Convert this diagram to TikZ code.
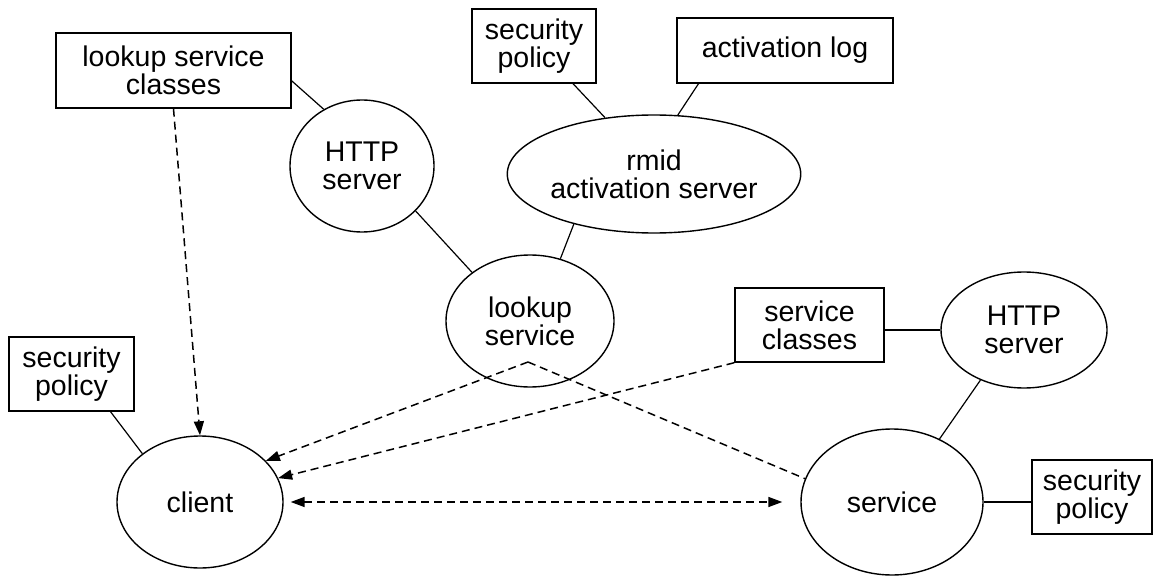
\documentclass[tikz,border=0pt]{standalone}
\usepackage{fontspec}
\setmainfont{Liberation Sans}
\usetikzlibrary{shapes.geometric,arrows.meta,calc}
\begin{document}
\begin{tikzpicture}[x=1pt,y=-1pt,
  every node/.style={font=\fontsize{28.5}{28}\selectfont, align=center, inner sep=0pt},
  box/.style={draw, rectangle, line width=1.4pt},
  oval/.style={draw, ellipse, line width=1.4pt},
  link/.style={line width=1.2pt},
  dlink/.style={line width=1.5pt, dash pattern=on 8pt off 5pt},
  tip/.style={-{Triangle[length=14pt,width=10pt]}}
]
\useasboundingbox (0,0) rectangle (1155,577);

% nodes
\node[box, minimum width=235, minimum height=75] (lsc) at (173.5,70.5) {lookup service\\classes};
\node[oval, minimum width=144, minimum height=132] (http1) at (362,166) {HTTP\\server};
\node[box, minimum width=124, minimum height=74] (sp1) at (534,46) {security\\policy};
\node[box, minimum width=216, minimum height=65] (alog) at (785,50.5) {activation log};
\node[oval, minimum width=264, minimum height=118] (rmid) at (654,174) {rmid\\activation server};
\node[oval, minimum width=168, minimum height=132] (ls) at (530,321) {lookup\\service};
\node[box, minimum width=149, minimum height=74] (sc) at (809.5,325) {service\\classes};
\node[oval, minimum width=166, minimum height=116] (http2) at (1024,330) {HTTP\\server};
\node[box, minimum width=125, minimum height=74] (sp2) at (71.5,374) {security\\policy};
\node[oval, minimum width=166, minimum height=132] (client) at (200,502) {client};
\node[oval, minimum width=182, minimum height=146] (service) at (892,502) {service};
\node[box, minimum width=120, minimum height=74] (sp3) at (1092,497) {security\\policy};
\coordinate (lsp) at (528,362);

% solid connectors
\draw[link] (lsc.-5) -- (http1.124);
\draw[link] (http1.-40) -- (ls.140);
\draw[link] (sp1.-44) -- (rmid.131);
\draw[link] (alog.201) -- (rmid.68);
\draw[link] (rmid.212) -- (ls.64);
\draw[link] (sp2.-44) -- (client.140);
\draw[link] (http2.west) -- (http2.west -| sc.east);
\draw[link] (http2.229) -- (service.53);
\draw[link] (service.east) -- (service.east -| sp3.west);

% dashed connectors
\draw[dlink, tip] (lsc.south) -- (client.north);
\draw[dlink, tip] (lsp) -- (client.32);
\draw[dlink] (lsp) -- (service.165);
\draw[dlink, tip] (sc.south west) -- (client.17);
\draw[dlink, {Triangle[length=14pt,width=10pt]}-{Triangle[length=14pt,width=10pt]}, shorten <=7pt, shorten >=18pt] (client.east) -- (service.west);
\end{tikzpicture}
\end{document}
